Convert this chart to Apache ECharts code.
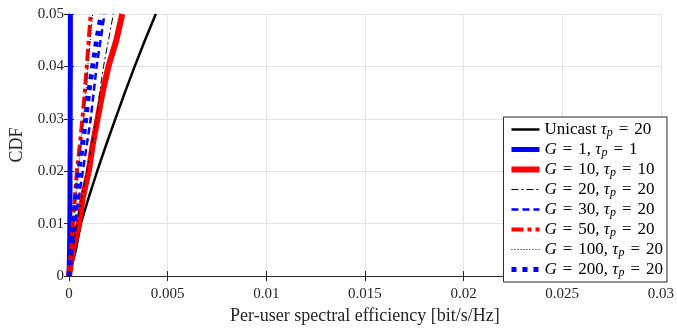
<!DOCTYPE html>
<html><head><meta charset="utf-8">
<script src="https://cdn.jsdelivr.net/npm/echarts@6/dist/echarts.min.js"></script>
<style>html,body{margin:0;padding:0;background:#fff}#c{width:677px;height:330px}</style>
</head><body><div id="c"></div>
<script>
// Tick labels
const xTicks = [0, 0.005, 0.01, 0.015, 0.02, 0.025, 0.03];
const yTicks = [0, 0.01, 0.02, 0.03, 0.04, 0.05];
// CDF levels (y) shared by all curves
const cdfLevels = [0, 0.005, 0.01, 0.015, 0.02, 0.025, 0.03, 0.035, 0.04, 0.045, 0.05];
// Per-user SE (x) at each CDF level, per series
const unicast = [0, 0.00035, 0.0006, 0.001, 0.00143, 0.00188, 0.00235, 0.00283, 0.00333, 0.00385, 0.0044];
const g1      = [0, 0.00003, 0.00004, 0.00005, 0.00005, 0.00006, 0.00006, 0.00006, 0.00007, 0.00007, 0.00007];
const g10     = [0, 0.0002, 0.0005, 0.0007, 0.001, 0.0012, 0.00145, 0.0017, 0.002, 0.0024, 0.0027];
const g20     = [0, 0.0002, 0.0004, 0.00065, 0.0009, 0.00115, 0.0014, 0.00155, 0.00175, 0.002, 0.00225];
const g30     = [0, 0.00015, 0.0003, 0.0005, 0.0007, 0.0009, 0.0011, 0.00125, 0.0014, 0.0016, 0.0018];
const g50     = [0, 0.0001, 0.0002, 0.0003, 0.0004, 0.00055, 0.00068, 0.0008, 0.0009, 0.001, 0.0011];
const g100    = [0, 0.0001, 0.00022, 0.00033, 0.00045, 0.0006, 0.00072, 0.00085, 0.00095, 0.00108, 0.0012];
const g200    = [0, 0.0001, 0.0002, 0.00035, 0.0005, 0.00068, 0.00085, 0.001, 0.0012, 0.0014, 0.00165];
// Legend labels (rich text)
const names = ['Unicast', 'G=1', 'G=10', 'G=20', 'G=30', 'G=50', 'G=100', 'G=200'];
const legendRich = {
  'Unicast': '{n|Unicast }{i|τ}{s|p}{e|=}{n|20}',
  'G=1':   '{i|G}{e|=}{n|1, }{i|τ}{s|p}{e|=}{n|1}',
  'G=10':  '{i|G}{e|=}{n|10, }{i|τ}{s|p}{e|=}{n|10}',
  'G=20':  '{i|G}{e|=}{n|20, }{i|τ}{s|p}{e|=}{n|20}',
  'G=30':  '{i|G}{e|=}{n|30, }{i|τ}{s|p}{e|=}{n|20}',
  'G=50':  '{i|G}{e|=}{n|50, }{i|τ}{s|p}{e|=}{n|20}',
  'G=100': '{i|G}{e|=}{n|100, }{i|τ}{s|p}{e|=}{n|20}',
  'G=200': '{i|G}{e|=}{n|200, }{i|τ}{s|p}{e|=}{n|20}'
};
const seriesX = [unicast, g1, g10, g20, g30, g50, g100, g200];
const styles = [
  {color: '#000000', width: 2.5, type: 'solid'},
  {color: '#0000ff', width: 5, type: 'solid'},
  {color: '#ff0000', width: 6, type: 'solid'},
  {color: '#000000', width: 1, type: [7, 3, 2, 3]},
  {color: '#0000ff', width: 2.5, type: [7, 4]},
  {color: '#ff0000', width: 4, type: [12, 4, 4, 4]},
  {color: '#000000', width: 1, type: [1, 2]},
  {color: '#0000ff', width: 5, type: [5, 6]}
];
const FONT = 'Liberation Serif';
const axisCol = '#262626';

const chart = echarts.init(document.getElementById('c'), null, {renderer: 'canvas'});
const series = names.map((nm, k) => ({
  name: nm,
  type: 'line',
  symbol: 'none',
  animation: false,
  xAxisIndex: 0, yAxisIndex: 0,
  data: seriesX[k].map((x, j) => [x, cdfLevels[j]]),
  lineStyle: {color: styles[k].color, width: styles[k].width, type: styles[k].type},
  itemStyle: {color: styles[k].color}
}));
const fmt = v => String(+v.toFixed(4));
chart.setOption({
  backgroundColor: '#fff',
  animation: false,
  grid: {left: 67, right: 10, top: 14, bottom: 48, containLabel: false},
  xAxis: [{
    type: 'value', min: xTicks[0], max: xTicks[xTicks.length - 1], interval: 0.005,
    position: 'bottom',
    name: 'Per-user spectral efficiency [bit/s/Hz]', nameLocation: 'middle', nameGap: 31,
    nameTextStyle: {fontFamily: FONT, fontSize: 18, color: axisCol},
    axisLine: {show: true, lineStyle: {color: axisCol, width: 1}},
    axisTick: {show: true, inside: true, length: 5, lineStyle: {color: axisCol}},
    axisLabel: {fontFamily: FONT, fontSize: 15, color: axisCol, margin: 11, formatter: fmt},
    splitLine: {show: true, lineStyle: {color: '#e3e3e3', width: 1}}
  }, {
    type: 'value', min: xTicks[0], max: xTicks[xTicks.length - 1], interval: 0.005,
    position: 'top',
    axisLine: {show: true, lineStyle: {color: axisCol, width: 1}},
    axisTick: {show: true, inside: true, length: 5, lineStyle: {color: axisCol}},
    axisLabel: {show: false}, splitLine: {show: false}
  }],
  yAxis: [{
    type: 'value', min: yTicks[0], max: yTicks[yTicks.length - 1], interval: 0.01,
    position: 'left',
    name: 'CDF', nameLocation: 'middle', nameGap: 43, nameRotate: 90,
    nameTextStyle: {fontFamily: FONT, fontSize: 18, color: axisCol},
    axisLine: {show: true, lineStyle: {color: axisCol, width: 1}},
    axisTick: {show: true, inside: true, length: 5, lineStyle: {color: axisCol}},
    axisLabel: {fontFamily: FONT, fontSize: 15, color: axisCol, margin: 5, formatter: fmt},
    splitLine: {show: true, lineStyle: {color: '#e3e3e3', width: 1}}
  }, {
    type: 'value', min: yTicks[0], max: yTicks[yTicks.length - 1], interval: 0.01,
    position: 'right',
    axisLine: {show: true, lineStyle: {color: axisCol, width: 1}},
    axisTick: {show: true, inside: true, length: 5, lineStyle: {color: axisCol}},
    axisLabel: {show: false}, splitLine: {show: false}
  }],
  legend: {
    data: names,
    orient: 'vertical',
    right: 10, bottom: 48,
    backgroundColor: '#fff',
    borderColor: axisCol, borderWidth: 1, borderRadius: 0,
    padding: [3, 4, 3, 5],
    itemWidth: 28, itemHeight: 14, itemGap: 1,
    itemStyle: {opacity: 0},
    lineStyle: {width: 'inherit'},
    align: 'left',
    formatter: nm => legendRich[nm],
    textStyle: {
      fontFamily: FONT, fontSize: 17, color: '#000',
      rich: {
        n: {fontFamily: FONT, fontSize: 17, color: '#000', lineHeight: 18},
        e: {fontFamily: FONT, fontSize: 17, color: '#000', lineHeight: 18, padding: [0, 6, 0, 6]},
        i: {fontFamily: FONT, fontSize: 17, fontStyle: 'italic', color: '#000', lineHeight: 18},
        s: {fontFamily: FONT, fontSize: 12, fontStyle: 'italic', color: '#000', padding: [7, 0, 0, 0], lineHeight: 18}
      }
    }
  },
  series: series
});
</script></body></html>
